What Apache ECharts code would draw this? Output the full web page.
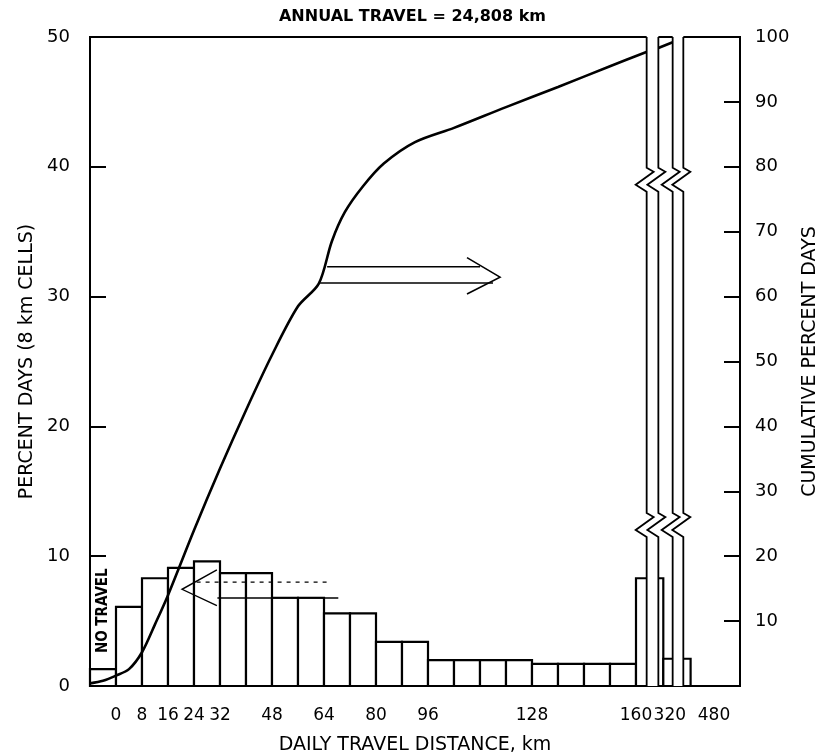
<!DOCTYPE html>
<html>
<head>
<meta charset="utf-8">
<script src="https://cdn.jsdelivr.net/npm/echarts@6/dist/echarts.min.js"></script>
<style>
html, body { margin: 0; padding: 0; background: #fff; }
#chart { width: 825px; height: 755px; }
</style>
</head>
<body>
<div id="chart"></div>
<script>
// x runs in 8 km cells: 0 = 0 km, 20 = 160 km, -1..0 is the "no travel" cell
const tickPos = [0, 1, 2, 3, 4, 6, 8, 10, 12, 16, 20, 21.3, 23];
const tickLabels = ['0', '8', '16', '24', '32', '48', '64', '80', '96', '128', '160', '320', '480'];

const barFrom = [-1, 0, 1, 2, 3, 4, 5, 6, 7, 8, 9, 10, 11, 12, 13, 14, 15, 16, 17, 18, 19, 20, 21.05];
const barTo   = [0, 1, 2, 3, 4, 5, 6, 7, 8, 9, 10, 11, 12, 13, 14, 15, 16, 17, 18, 19, 20, 21.05, 22.1];
const barPct  = [1.3, 6.1, 8.3, 9.1, 9.6, 8.7, 8.7, 6.8, 6.8, 5.6, 5.6, 3.4, 3.4,
                 2.0, 2.0, 2.0, 2.0, 1.7, 1.7, 1.7, 1.7, 8.3, 2.1];

// cumulative percent days (right axis)
const cumPos = [-1, -0.5, 0, 0.5, 1, 1.5, 2, 3, 4, 5, 6, 7, 7.8, 8.3, 8.8, 9.5, 10.3, 11.5, 13, 15, 17, 19, 20.4];
const cumPct = [0.4, 0.8, 1.6, 2.6, 5.2, 9.5, 14, 24, 33.5, 42.5, 51, 58.5, 62, 68.5, 73, 77, 80.5, 83.8, 86, 89.2, 92.3, 95.5, 97.7];
const cumPos2 = [20.86, 21.41];
const cumPct2 = [98.3, 99.2];

// axis breaks: pairs of edges, zigzag heights on the left scale
const breakEdges = [[20.41, 20.86], [21.41, 21.82]];
const zigAt = [39, 12.4];

const FONT = 'DejaVu Sans';

const barData = barFrom.map((x, i) => [x, barTo[i], barPct[i]]);
const cumData = cumPos.map((x, i) => [x, cumPct[i]]);
const cumData2 = cumPos2.map((x, i) => [x, cumPct2[i]]);

const myChart = echarts.init(document.getElementById('chart'));

const line = (api, pts, extra) => ({
    type: 'polyline',
    shape: { points: pts.map(p => api.coord(p)) },
    style: Object.assign({ stroke: '#000', lineWidth: 1.6, fill: null }, extra || {})
});

myChart.setOption({
    animation: false,
    title: {
        text: 'ANNUAL TRAVEL = 24,808 km',
        left: 'center',
        top: 4,
        textStyle: { fontFamily: FONT, fontSize: 16, fontWeight: 'bold', color: '#000' }
    },
    grid: {
        left: 90, right: 85, top: 37, bottom: 69,
        outerBoundsMode: 'none',
        show: true, borderColor: '#000', borderWidth: 2
    },
    xAxis: {
        type: 'value',
        min: -1,
        max: 24,
        name: 'DAILY TRAVEL DISTANCE, km',
        nameLocation: 'middle',
        nameGap: 50,
        nameTextStyle: { fontFamily: FONT, fontSize: 19, color: '#000' },
        axisLine: { onZero: false, lineStyle: { color: '#000', width: 2 } },
        axisTick: { show: false },
        splitLine: { show: false },
        axisLabel: {
            customValues: tickPos,
            formatter: v => tickLabels[tickPos.indexOf(v)] || '',
            fontFamily: FONT, fontSize: 17, color: '#000', margin: 21
        }
    },
    yAxis: [
        {
            type: 'value', min: 0, max: 50, interval: 10,
            name: 'PERCENT DAYS (8 km CELLS)',
            nameLocation: 'middle', nameRotate: 90, nameGap: 46,
            nameTextStyle: { fontFamily: FONT, fontSize: 19, color: '#000' },
            axisLine: { show: true, onZero: false, lineStyle: { color: '#000', width: 2 } },
            axisTick: { show: true, inside: true, length: 16, lineStyle: { color: '#000', width: 2 } },
            splitLine: { show: false },
            axisLabel: { fontFamily: FONT, fontSize: 18, color: '#000', margin: 20 }
        },
        {
            type: 'value', min: 0, max: 100, interval: 10,
            name: 'CUMULATIVE PERCENT DAYS',
            nameLocation: 'middle', nameRotate: 90, nameGap: 60,
            nameTextStyle: { fontFamily: FONT, fontSize: 19, color: '#000' },
            axisLine: { show: true, onZero: false, lineStyle: { color: '#000', width: 2 } },
            axisTick: { show: true, inside: true, length: 16, lineStyle: { color: '#000', width: 2 } },
            splitLine: { show: false },
            axisLabel: {
                fontFamily: FONT, fontSize: 18, color: '#000', margin: 15,
                formatter: v => v === 0 ? '' : String(v)
            }
        }
    ],
    series: [
        {
            // histogram cells
            type: 'custom',
            z: 2,
            data: barData,
            renderItem: (params, api) => {
                const p0 = api.coord([api.value(0), 0]);
                const p1 = api.coord([api.value(1), api.value(2)]);
                return {
                    type: 'rect',
                    shape: { x: p0[0], y: p1[1], width: p1[0] - p0[0], height: p0[1] - p1[1] },
                    style: { fill: '#fff', stroke: '#000', lineWidth: 2.2 }
                };
            }
        },
        {
            type: 'line',
            yAxisIndex: 1,
            z: 3,
            smooth: 0.3,
            symbol: 'none',
            lineStyle: { color: '#000', width: 2.6 },
            data: cumData
        },
        {
            type: 'line',
            yAxisIndex: 1,
            z: 3,
            symbol: 'none',
            lineStyle: { color: '#000', width: 2.6 },
            data: cumData2
        },
        {
            // hand drawn arrows and the "no travel" note
            type: 'custom',
            z: 4,
            data: [0],
            renderItem: (params, api) => {
                const t = api.coord([-0.5, 5.8]);
                return {
                    type: 'group',
                    children: [
                        line(api, [[8.12, 32.3], [14.0, 32.3]]),
                        line(api, [[7.85, 31.05], [14.5, 31.05]]),
                        line(api, [[13.5, 33.0], [14.77, 31.5], [13.5, 30.2]]),
                        line(api, [[3.88, 8.95], [2.54, 7.45], [3.88, 6.2]], { lineWidth: 1.4 }),
                        line(api, [[3.1, 8.0], [8.25, 8.0]], { lineWidth: 1.2, lineDash: [4, 5] }),
                        line(api, [[3.9, 6.78], [8.55, 6.78]], { lineWidth: 1.4 }),
                        {
                            type: 'text',
                            x: t[0], y: t[1], rotation: Math.PI / 2,
                            style: {
                                text: 'NO TRAVEL', fontFamily: 'DejaVu Sans Condensed, DejaVu Sans',
                                fontSize: 15, fontWeight: 'bold', fill: '#000',
                                align: 'center', verticalAlign: 'middle'
                            }
                        }
                    ]
                };
            }
        },
        {
            // scale breaks beyond 160 km
            type: 'custom',
            z: 5,
            data: breakEdges,
            renderItem: (params, api) => {
                const edge = x => {
                    const top = api.coord([x, 50]);
                    const bot = api.coord([x, 0]);
                    const pts = [[top[0], top[1] - 2]];
                    zigAt.forEach(v => {
                        const c = api.coord([x, v]);
                        pts.push([c[0], c[1] - 12], [c[0] + 7, c[1] - 8], [c[0] - 11, c[1] + 5], [c[0], c[1] + 12]);
                    });
                    pts.push([bot[0], bot[1]]);
                    return pts;
                };
                const l = edge(api.value(0));
                const r = edge(api.value(1));
                return {
                    type: 'group',
                    children: [
                        { type: 'polygon', shape: { points: l.concat(r.slice().reverse()) }, style: { fill: '#fff' } },
                        { type: 'polyline', shape: { points: [[l[0][0], l[0][1] + 2]].concat(l.slice(1)) }, style: { stroke: '#000', lineWidth: 1.8, fill: null } },
                        { type: 'polyline', shape: { points: [[r[0][0], r[0][1] + 2]].concat(r.slice(1)) }, style: { stroke: '#000', lineWidth: 1.8, fill: null } }
                    ]
                };
            }
        }
    ]
});
</script>
</body>
</html>
